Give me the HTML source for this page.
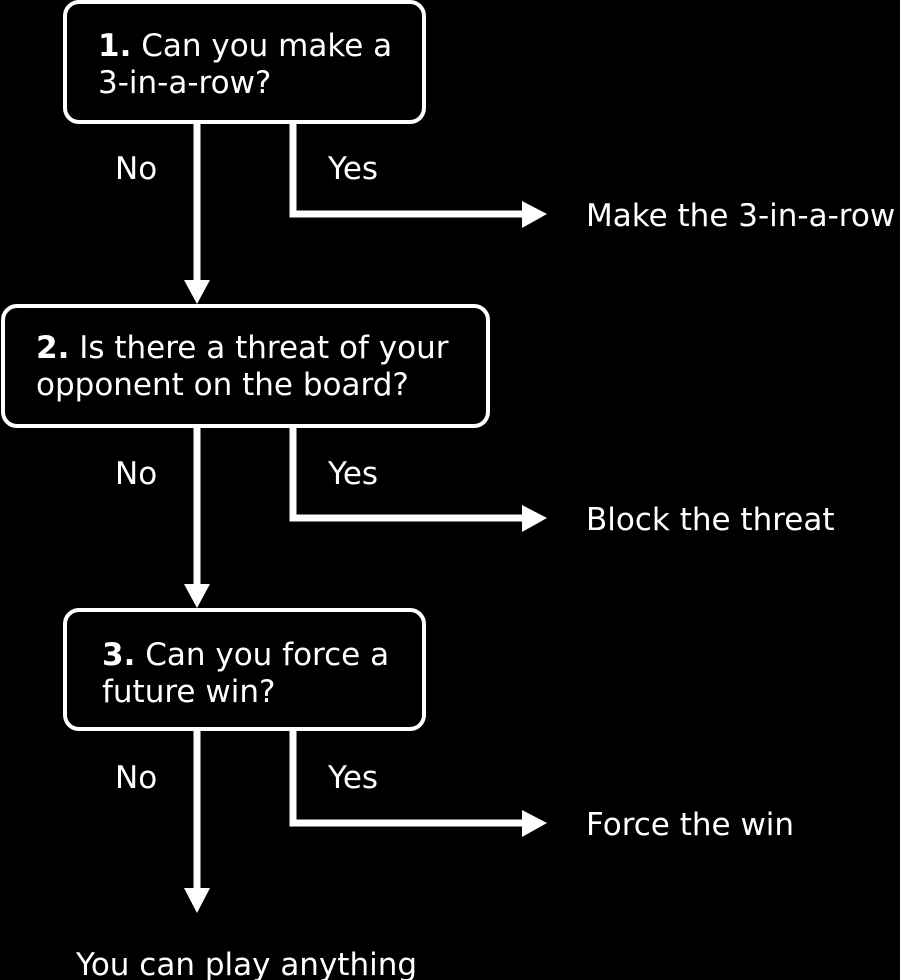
<!DOCTYPE html>
<html><head><meta charset="utf-8"><style>
html,body{margin:0;padding:0;background:#000;}
svg{display:block;}
text{font-family:"DejaVu Sans","Liberation Sans",sans-serif;font-size:31px;fill:#fff;}
</style></head><body>
<svg width="900" height="980" viewBox="0 0 900 980" xmlns="http://www.w3.org/2000/svg">
<g fill="none" stroke="#fff" stroke-width="4">
<rect x="65" y="2" width="359" height="120" rx="14"/>
<rect x="3" y="306" width="485" height="120" rx="14"/>
<rect x="65" y="610" width="359" height="119" rx="14"/>
</g>
<g fill="none" stroke="#fff" stroke-width="7">
<line x1="197" y1="124" x2="197" y2="282"/>
<polyline points="293,124 293,214 525,214"/>
<line x1="197" y1="428" x2="197" y2="586"/>
<polyline points="293,428 293,518 525,518"/>
<line x1="197" y1="731" x2="197" y2="890"/>
<polyline points="293,731 293,823 525,823"/>
</g>
<g fill="#fff">
<polygon points="184,280 210,280 197,304"/>
<polygon points="184,584 210,584 197,608"/>
<polygon points="184,888 210,888 197,913"/>
<polygon points="522,201 522,228 547,214"/>
<polygon points="522,505 522,532 547,518"/>
<polygon points="522,810 522,837 547,823"/>
</g>
<text x="98" y="56"><tspan font-weight="bold">1.</tspan> Can you make a</text>
<text x="98" y="93">3-in-a-row?</text>
<text x="115" y="179">No</text>
<text x="328" y="179">Yes</text>
<text x="586" y="226">Make the 3-in-a-row</text>
<text x="36" y="358"><tspan font-weight="bold">2.</tspan> Is there a threat of your</text>
<text x="36" y="395">opponent on the board?</text>
<text x="115" y="484">No</text>
<text x="328" y="484">Yes</text>
<text x="586" y="530">Block the threat</text>
<text x="102" y="665"><tspan font-weight="bold">3.</tspan> Can you force a</text>
<text x="102" y="702">future win?</text>
<text x="115" y="788">No</text>
<text x="328" y="788">Yes</text>
<text x="586" y="835">Force the win</text>
<text x="76" y="975">You can play anything</text>
</svg>
</body></html>
